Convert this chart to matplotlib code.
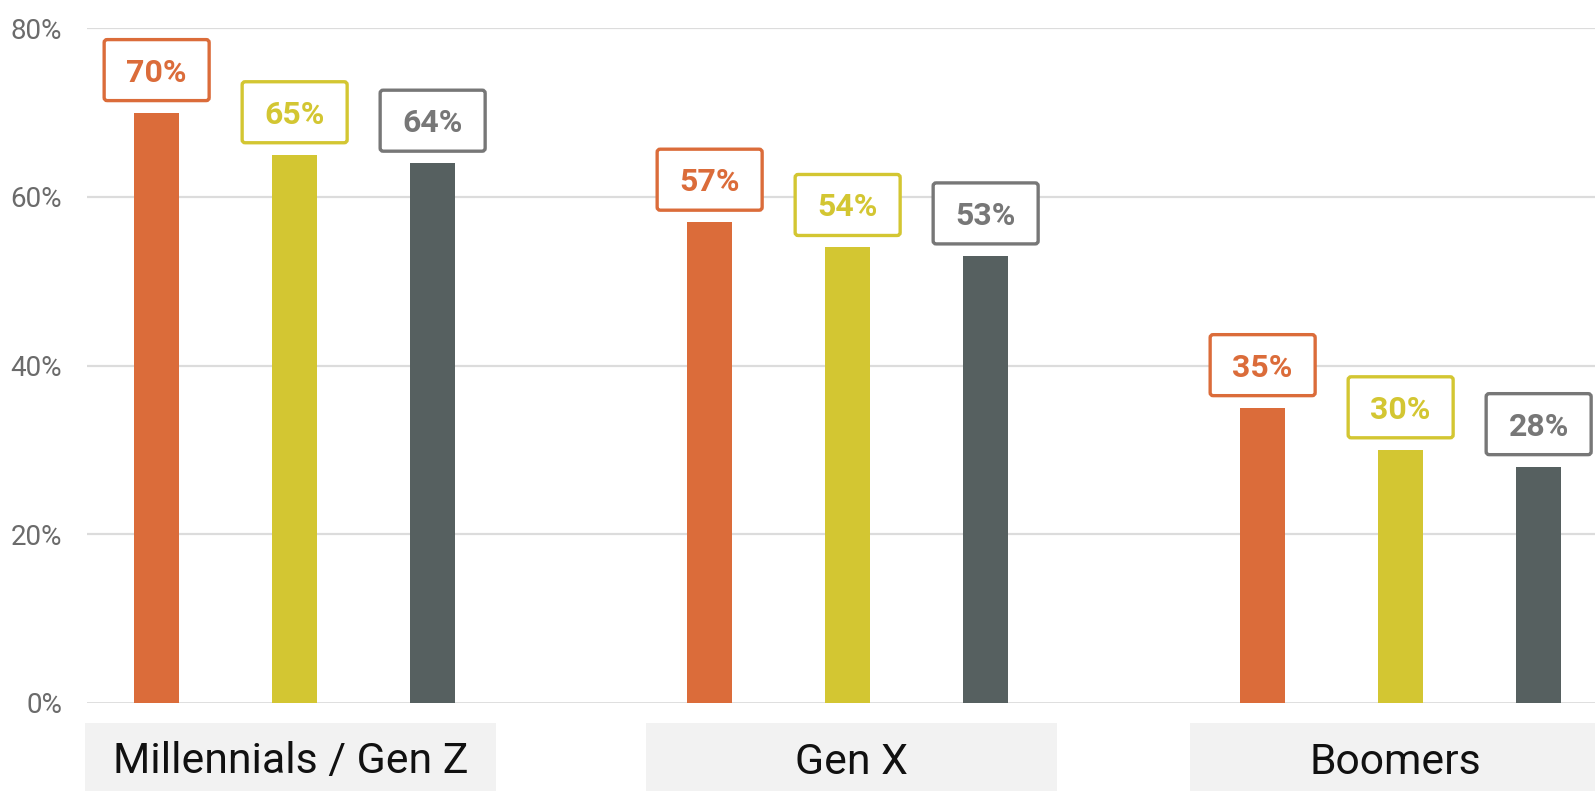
import matplotlib
matplotlib.use("Agg")
import matplotlib.pyplot as plt
import matplotlib.transforms as mtransforms
from matplotlib.patches import FancyBboxPatch, Rectangle
import numpy as np

categories = ["Millennials / Gen Z", "Gen X", "Boomers"]
series_a = [70, 57, 35]
series_b = [65, 54, 30]
series_c = [64, 53, 28]
yticks = [0, 20, 40, 60, 80]
ytick_labels = ["0%", "20%", "40%", "60%", "80%"]

bar_colors = ["#DB6C3A", "#D3C632", "#566060"]
label_colors = ["#DB6C3A", "#D3C632", "#777777"]

W, H, DPI = 1595, 791, 100
fig = plt.figure(figsize=(W / DPI, H / DPI), dpi=DPI)
ax_left, ax_right = 87.3, 1595
ax_bottom_px, ax_top_px = 702.7, 28.3
ax = fig.add_axes([ax_left / W, (H - ax_bottom_px) / H,
                   (ax_right - ax_left) / W, (ax_bottom_px - ax_top_px) / H])

group_px = 553.0
offset = 138.0 / group_px
bar_w = 45.3 / group_px
x = np.arange(len(categories))

ax.set_xlim((ax_left - 294.65) / group_px, (ax_right - 294.65) / group_px)
ax.set_ylim(0, 80)

for y in yticks:
    ax.axhline(y, color="#dcdcdc", lw=1.6 if y else 2.0, zorder=1)

all_series = [series_a, series_b, series_c]
for i, vals in enumerate(all_series):
    xs = x + (i - 1) * offset
    ax.bar(xs, vals, width=bar_w, color=bar_colors[i], zorder=3)
    for xi, v in zip(xs, vals):
        tr = mtransforms.IdentityTransform() + mtransforms.ScaledTranslation(xi, v, ax.transData)
        bw, bh, gap = 105, 61, 12
        box = FancyBboxPatch((-bw / 2, gap), bw, bh,
                             boxstyle="round,pad=0,rounding_size=3",
                             fc="white", ec=label_colors[i], lw=2.4,
                             transform=tr, clip_on=False, zorder=4)
        ax.add_patch(box)
        ax.text(0, gap + bh / 2 - 11.5, f"{v}%", transform=tr, ha="center", va="baseline",
                fontsize=23, fontweight="bold", family="Roboto", color=label_colors[i],
                zorder=5, clip_on=False)

# category label boxes
xtr = ax.get_xaxis_transform()
box_w = 411 / group_px
box_shift_px = [-4.1, 3.4, -5.1]
box_top = (ax_bottom_px - 722.7) / (ax_bottom_px - ax_top_px)
box_bot = (ax_bottom_px - 795) / (ax_bottom_px - ax_top_px)
for xi, cat, sh in zip(x, categories, box_shift_px):
    cx = xi + sh / group_px
    ax.add_patch(Rectangle((cx - box_w / 2, box_bot), box_w, box_top - box_bot,
                           transform=xtr, fc="#f2f2f2", ec="none", clip_on=False, zorder=2))
    ax.text(cx, (ax_bottom_px - 757.5) / (ax_bottom_px - ax_top_px), cat, transform=xtr,
            ha="center", va="center_baseline", fontsize=30.8, family="Roboto", color="#111111")

ax.set_xticks([])
ax.set_yticks(yticks)
ax.set_yticklabels(ytick_labels, family="Roboto", fontsize=20, color="#6b6b6b")
ax.tick_params(axis="y", length=0, pad=18)
for s in ax.spines.values():
    s.set_visible(False)

fig.savefig("out.png", dpi=DPI)
